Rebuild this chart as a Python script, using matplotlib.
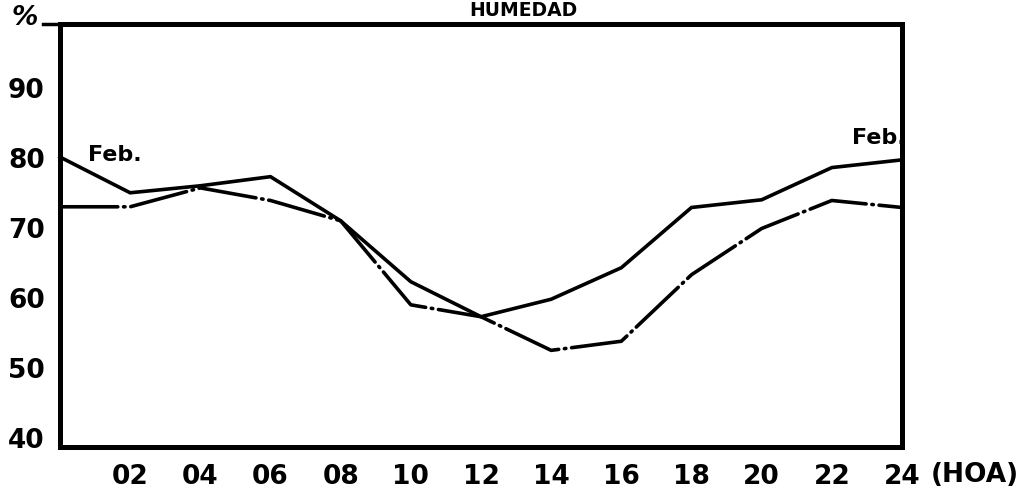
import matplotlib
matplotlib.use("Agg")
import matplotlib.pyplot as plt

# ---- data ----
hours = [0, 2, 4, 6, 8, 10, 12, 14, 16, 18, 20, 22, 24]
feb_solid = [80.1, 75.0, 76.0, 77.3, 71.0, 62.3, 57.3, 59.8, 64.3, 72.9, 74.0, 78.6, 79.7]
feb_dashdot = [73.0, 73.0, 75.7, 73.9, 71.0, 59.0, 57.3, 52.5, 53.8, 63.3, 69.9, 73.9, 72.9]
x_ticks = [2, 4, 6, 8, 10, 12, 14, 16, 18, 20, 22, 24]
x_ticklabels = ["02", "04", "06", "08", "10", "12", "14", "16", "18", "20", "22", "24"]
y_ticks = [40, 50, 60, 70, 80, 90]
y_ticklabels = ["40", "50", "60", "70", "80", "90"]
title = "HUMEDAD"
unit_label = "%"
x_unit = "(HOA)"
series_label = "Feb."

plt.rcParams['font.family'] = ['DejaVu Sans']

fig = plt.figure(figsize=(10.25, 4.93), dpi=100)
ax = fig.add_axes([60 / 1025, 1 - 447 / 493, (902 - 60) / 1025, (447 - 24) / 493])

ax.plot(hours, feb_solid, color='black', lw=2.6, solid_joinstyle='miter',
        clip_on=False)
ax.plot(hours, feb_dashdot, color='black', lw=2.6,
        linestyle=(0, (16, 1.6, 0.4, 1.6)), dash_capstyle='round',
        clip_on=False)

ax.set_xlim(0, 24)
ax.set_ylim(38.7, 99.1)

ax.set_xticks(x_ticks)
ax.set_xticklabels(x_ticklabels, fontsize=19, fontweight='bold')
ax.set_yticks(y_ticks)
ax.set_yticklabels(y_ticklabels, fontsize=19, fontweight='bold')
ax.tick_params(axis='both', length=0)
ax.tick_params(axis='x', pad=12)
ax.tick_params(axis='y', pad=11)

for s in ax.spines.values():
    s.set_linewidth(3.6)
    s.set_color('black')

# small extension of the top border to the left
ax.plot([-0.02, 0], [1, 1], transform=ax.transAxes, color='black', lw=2.5,
        clip_on=False)

# texts
fig.text(523 / 1025, 1 - 16 / 493, title, ha='center', va='baseline',
         fontsize=13.5, fontweight='bold')
fig.text(25 / 1025, 1 - 18 / 493, unit_label, ha='center', va='center',
         fontsize=19, fontweight='bold', style='italic')
fig.text(975 / 1025, 1 - 475 / 493, x_unit, ha='center', va='center',
         fontsize=19, fontweight='bold')
fig.text(115 / 1025, 1 - 155 / 493, series_label, ha='center', va='center',
         fontsize=16, fontweight='bold')
fig.text(879 / 1025, 1 - 138 / 493, series_label, ha='center', va='center',
         fontsize=16, fontweight='bold')

fig.savefig("out.png", dpi=100)
